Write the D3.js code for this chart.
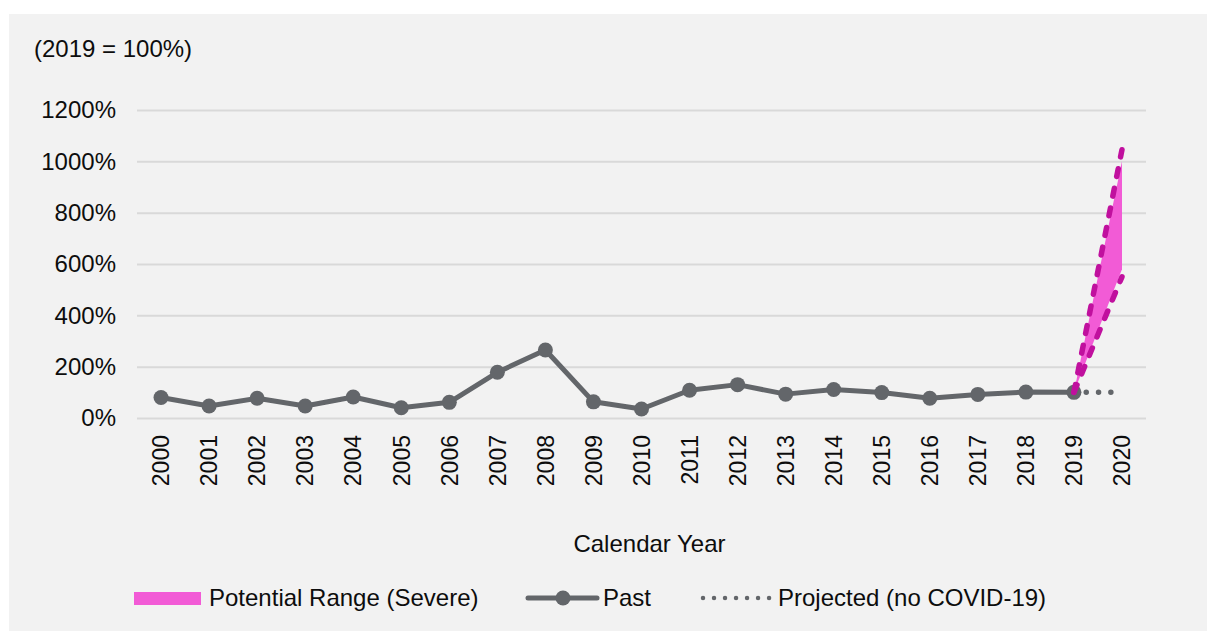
<!DOCTYPE html>
<html>
<head>
<meta charset="utf-8">
<script src="https://cdnjs.cloudflare.com/ajax/libs/d3/7.8.5/d3.min.js"></script>
<style>
  html, body { margin: 0; padding: 0; background: #ffffff; }
  svg { display: block; }
  text { font-family: "Liberation Sans", Arial, sans-serif; fill: #0d0d0d; }
</style>
</head>
<body>
<script>
// Index values, 2019 = 100%
const years = [2000, 2001, 2002, 2003, 2004, 2005, 2006, 2007, 2008, 2009, 2010,
               2011, 2012, 2013, 2014, 2015, 2016, 2017, 2018, 2019, 2020];
const pastValues = [80, 47, 77, 47, 82, 40, 61, 178, 265, 63, 35,
                    108, 130, 93, 111, 99, 77, 92, 101, 100];
const projectedYears = [2019, 2020];
const projectedValues = [100, 100];
const rangeYears = [2019, 2020];
const rangeLow = [100, 580];
const rangeHigh = [100, 1000];
const boundLow = [100, 550];
const boundHigh = [100, 1045];
const yTicks = [0, 200, 400, 600, 800, 1000, 1200];

const W = 1207, H = 631;
const plot = { left: 137, right: 1146, top: 110, bottom: 418 };
const FS = 24;

const svg = d3.select("body").append("svg").attr("width", W).attr("height", H);

// Chart panel
svg.append("rect").attr("x", 9).attr("y", 14).attr("width", W - 9).attr("height", H - 14)
  .attr("fill", "#f2f2f2");

const x = d3.scaleBand().domain(years).range([plot.left, plot.right]);
const xc = d => x(d) + x.bandwidth() / 2;
const y = d3.scaleLinear().domain([0, 1200]).range([plot.bottom, plot.top]);

// Gridlines and y labels
const yAxis = d3.axisLeft(y).tickValues(yTicks).tickFormat(d => d + "%")
  .tickSize(-(plot.right - plot.left)).tickPadding(21);
const gy = svg.append("g").attr("transform", `translate(${plot.left},0)`).call(yAxis);
gy.select(".domain").remove();
gy.selectAll(".tick line").attr("stroke", "#d9d9d9").attr("stroke-width", 2);
gy.selectAll(".tick text").attr("font-size", FS).attr("fill", "#0d0d0d")
  .attr("font-family", "'Liberation Sans', Arial, sans-serif");

// Year labels (rotated)
const xAxis = d3.axisBottom(x).tickSize(0).tickPadding(0);
const gx = svg.append("g").attr("transform", `translate(0,${plot.bottom})`).call(xAxis);
gx.select(".domain").remove();
gx.selectAll(".tick text")
  .attr("font-size", 23).attr("fill", "#0d0d0d")
  .attr("font-family", "'Liberation Sans', Arial, sans-serif")
  .attr("transform", "rotate(-90)")
  .attr("text-anchor", "end")
  .attr("x", -17).attr("y", 0).attr("dy", "0.36em");

// Potential range area
const area = d3.area()
  .x((d, i) => xc(rangeYears[i]))
  .y0((d, i) => y(rangeLow[i]))
  .y1((d, i) => y(rangeHigh[i]));
svg.append("path").datum(rangeYears).attr("d", area).attr("fill", "#f25bd6");

// Projected (no COVID-19)
const lineP = d3.line().x((d, i) => xc(projectedYears[i])).y(d => y(d));
svg.append("path").datum(projectedValues).attr("d", lineP)
  .attr("fill", "none").attr("stroke", "#63666a").attr("stroke-width", 5.5)
  .attr("stroke-linecap", "round").attr("stroke-dasharray", "0.01 12.3");

// Past series
const pastYears = years.slice(0, pastValues.length);
const lineA = d3.line().x((d, i) => xc(pastYears[i])).y(d => y(d));
svg.append("path").datum(pastValues).attr("d", lineA)
  .attr("fill", "none").attr("stroke", "#63666a").attr("stroke-width", 5)
  .attr("stroke-linejoin", "round");
svg.append("g").selectAll("circle").data(pastValues).join("circle")
  .attr("cx", (d, i) => xc(pastYears[i])).attr("cy", d => y(d)).attr("r", 7.5)
  .attr("fill", "#63666a");

// Range bounds (dashed)
[boundLow, boundHigh].forEach(vals => {
  const l = d3.line().x((d, i) => xc(rangeYears[i])).y(d => y(d));
  svg.append("path").datum(vals).attr("d", l)
    .attr("fill", "none").attr("stroke", "#c0109e").attr("stroke-width", 5.5)
    .attr("stroke-linecap", "round").attr("stroke-dasharray", "8 12");
});

// Titles
svg.append("text").attr("x", 34).attr("y", 57).attr("font-size", FS).text("(2019 = 100%)");
svg.append("text").attr("x", (plot.left + plot.right) / 2 + 8).attr("y", 552)
  .attr("text-anchor", "middle").attr("font-size", FS).text("Calendar Year");

// Legend
const lg = svg.append("g");
lg.append("rect").attr("x", 134).attr("y", 592).attr("width", 67).attr("height", 13).attr("fill", "#f25bd6");
lg.append("text").attr("x", 209).attr("y", 606).attr("font-size", FS).text("Potential Range (Severe)");
lg.append("line").attr("x1", 528).attr("x2", 597).attr("y1", 598).attr("y2", 598)
  .attr("stroke", "#63666a").attr("stroke-width", 5).attr("stroke-linecap", "round");
lg.append("circle").attr("cx", 563).attr("cy", 598).attr("r", 7.5).attr("fill", "#63666a");
lg.append("text").attr("x", 603).attr("y", 606).attr("font-size", FS).text("Past");
lg.append("line").attr("x1", 703).attr("x2", 770).attr("y1", 598).attr("y2", 598)
  .attr("stroke", "#63666a").attr("stroke-width", 4.5).attr("stroke-linecap", "round")
  .attr("stroke-dasharray", "0.01 11");
lg.append("text").attr("x", 778).attr("y", 606).attr("font-size", FS).text("Projected (no COVID-19)");
</script>
</body>
</html>
